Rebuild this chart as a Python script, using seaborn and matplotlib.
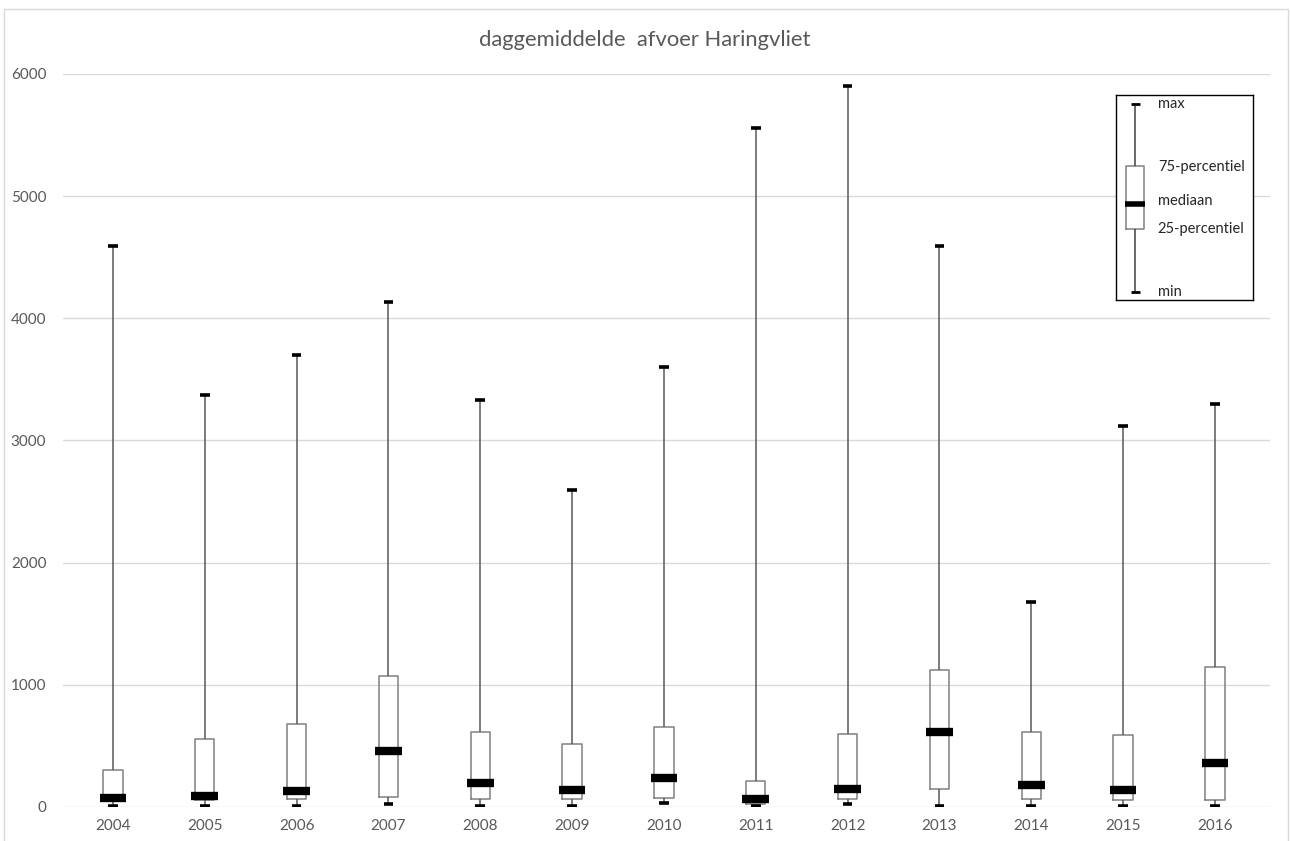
import numpy as np
import pandas as pd
import matplotlib
matplotlib.use("Agg")
import matplotlib.pyplot as plt
from matplotlib.patches import Rectangle
import seaborn as sns

# five-number summaries per year (m3/s)
years = ['2004', '2005', '2006', '2007', '2008', '2009', '2010',
         '2011', '2012', '2013', '2014', '2015', '2016']
q_min = [5, 5, 5, 22, 5, 5, 30, 8, 25, 5, 5, 5, 5]
q_25 = [57, 57, 63, 82, 63, 63, 74, 25, 63, 150, 63, 55, 55]
q_med = [75, 92, 133, 461, 199, 142, 240, 68, 150, 616, 180, 142, 363]
q_75 = [303, 557, 677, 1075, 616, 513, 657, 210, 600, 1125, 616, 589, 1143]
q_max = [4592, 3372, 3700, 4134, 3331, 2595, 3602, 5558, 5902, 4592, 1678, 3119, 3299]

yticks = [0, 1000, 2000, 3000, 4000, 5000, 6000]

# legend sample
leg_stats = [0.0, 0.335, 0.47, 0.67, 1.0]
leg_labels = ['min', '25-percentiel', 'mediaan', '75-percentiel', 'max']
leg_label_y = [0.0, 0.335, 0.484, 0.665, 1.0]

# five values per year -> linear percentiles give exactly min/q1/median/q3/max
rows = []
for i, y in enumerate(years):
    for v in (q_min[i], q_25[i], q_med[i], q_75[i], q_max[i]):
        rows.append({'jaar': y, 'afvoer': v})
df = pd.DataFrame(rows)

sns.set_style('white')
plt.rcParams['font.family'] = ['Lato', 'DejaVu Sans']

grey_txt = '#595959'
box_col = '#808080'

fig = plt.figure(figsize=(12.9, 8.41), dpi=100)
ax = fig.add_axes([63 / 1290, 34 / 841, 1207 / 1290, 733 / 841])

for y in yticks:
    ax.axhline(y, color='#d9d9d9', lw=1, zorder=0)

sns.boxplot(data=df, x='jaar', y='afvoer', ax=ax, whis=(0, 100), width=0.21,
            fill=False, color=box_col, linewidth=1.1,
            boxprops=dict(color=box_col, linewidth=1.1),
            whiskerprops=dict(color='#595959', linewidth=1.1),
            capprops=dict(color='black', linewidth=2.6, solid_capstyle='butt'),
            medianprops=dict(linewidth=0),
            showfliers=False)

# thick median bars, wider than the box
xpos = np.arange(len(years))
ax.hlines(q_med, xpos - 0.145, xpos + 0.145, colors='black', linewidth=6, zorder=5)

ax.set_xlim(-0.544, 12.6)
ax.set_ylim(0, 6000)
ax.set_yticks(yticks)
ax.set_yticklabels([str(t) for t in yticks])
ax.set_xlabel('')
ax.set_ylabel('')
ax.tick_params(axis='both', length=0, labelsize=11, labelcolor=grey_txt)
ax.tick_params(axis='y', pad=12)
ax.tick_params(axis='x', pad=9)
for s in ax.spines.values():
    s.set_visible(False)

fig.text(0.5, 1 - 40 / 841, 'daggemiddelde  afvoer Haringvliet', ha='center', va='center',
         fontsize=15.8, color=grey_txt)

# legend panel
lax = fig.add_axes([1116 / 1290, 1 - 300 / 841, 137 / 1290, 205 / 841])
leg_df = pd.DataFrame({'x': ['a'] * 5, 'v': leg_stats})
sns.boxplot(data=leg_df, x='x', y='v', ax=lax, whis=(0, 100), width=0.13,
            fill=False, color=box_col, linewidth=1.1,
            boxprops=dict(color=box_col, linewidth=1.1),
            whiskerprops=dict(color='#404040', linewidth=1.1),
            capprops=dict(color='black', linewidth=2, solid_capstyle='butt'),
            medianprops=dict(linewidth=0), showfliers=False)
lax.set_xlim(-0.14, 0.86)
lax.set_ylim(-8 / 188, 1 + 9 / 188)
lax.hlines(leg_stats[2], -0.075, 0.075, colors='black', linewidth=4, zorder=5)
for yv, lab in zip(leg_label_y, leg_labels):
    lax.text(0.165, yv, lab, fontsize=10.5, color='#262626', va='center', ha='left')
lax.set_xticks([])
lax.set_yticks([])
lax.set_xlabel('')
lax.set_ylabel('')
for s in lax.spines.values():
    s.set_visible(True)
    s.set_color('black')
    s.set_linewidth(1)

# outer chart border
fig.patches.append(Rectangle((4 / 1290, -0.01), 1284 / 1290, 1 - 9 / 841 + 0.01,
                             transform=fig.transFigure, fill=False,
                             edgecolor='#d9d9d9', linewidth=1))

fig.savefig('out.png', dpi=100)
